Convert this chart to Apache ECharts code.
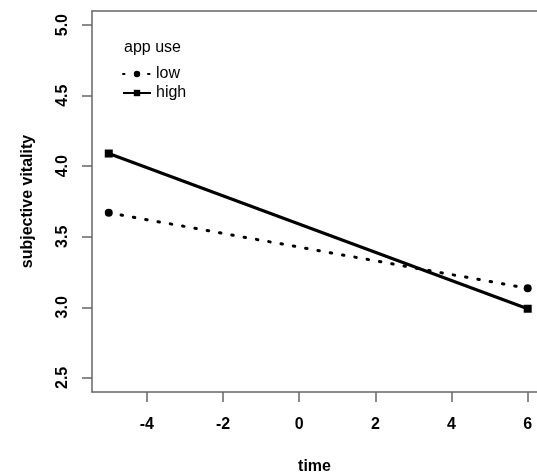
<!DOCTYPE html>
<html>
<head>
<meta charset="utf-8">
<script src="https://cdn.jsdelivr.net/npm/echarts@6/dist/echarts.min.js"></script>
<style>
  html, body { margin: 0; padding: 0; background: #fff; }
  #chart { width: 537px; height: 476px; }
</style>
</head>
<body>
<div id="chart"></div>
<script>
// data
const time = [-5, 6];
const lowUse = [3.67, 3.135];
const highUse = [4.09, 2.99];
const xTicks = [-4, -2, 0, 2, 4, 6];
const yTicks = [2.5, 3.0, 3.5, 4.0, 4.5, 5.0];

const font = "Liberation Sans, Arial, sans-serif";
const axisColor = "#666";
const chart = echarts.init(document.getElementById("chart"));

const option = {
  animation: false,
  title: {
    text: "app use",
    left: 119,
    top: 35,
    textStyle: { fontFamily: font, fontSize: 16, fontWeight: "normal", color: "#000" }
  },
  legend: {
    orient: "vertical",
    left: 117,
    top: 61,
    itemWidth: 28,
    itemHeight: 8,
    itemGap: 3,
    textStyle: { fontFamily: font, fontSize: 16, color: "#000" },
    data: ["low", "high"]
  },
  // plot box drawn by the axis lines (the right side is cut off in the reference)
  grid: { left: 92, right: 0, top: 11, bottom: 84, containLabel: false, outerBoundsMode: "none" },
  xAxis: [
    {
      type: "value",
      min: -5.44,
      max: 6.244,
      position: "bottom",
      name: "time",
      nameLocation: "middle",
      nameGap: 67,
      nameTextStyle: { fontFamily: font, fontSize: 16, fontWeight: "bold", color: "#000" },
      axisLine: { show: true, onZero: false, lineStyle: { color: axisColor, width: 1.5 } },
      splitLine: { show: false },
      axisTick: { show: true, length: 10, inside: false, customValues: xTicks, lineStyle: { color: axisColor, width: 1.5 } },
      axisLabel: {
        customValues: xTicks,
        margin: 25,
        fontFamily: font, fontSize: 16, fontWeight: "bold", color: "#000"
      }
    },
    {
      type: "value",
      min: -5.44,
      max: 6.244,
      position: "top",
      axisLine: { show: true, onZero: false, lineStyle: { color: axisColor, width: 1.5 } },
      axisTick: { show: false },
      axisLabel: { show: false },
      splitLine: { show: false }
    }
  ],
  yAxis: {
    type: "value",
    min: 2.4,
    max: 5.1,
    name: "subjective vitality",
    nameLocation: "middle",
    nameGap: 56,
    nameRotate: 90,
    nameTextStyle: { fontFamily: font, fontSize: 16, fontWeight: "bold", color: "#000" },
    axisLine: { show: true, onZero: false, lineStyle: { color: axisColor, width: 1.5 } },
    splitLine: { show: false },
    axisTick: { show: true, length: 10, inside: false, customValues: yTicks, lineStyle: { color: axisColor, width: 1.5 } },
    axisLabel: {
      customValues: yTicks,
      rotate: 90,
      margin: 21,
      formatter: v => v.toFixed(1),
      fontFamily: font, fontSize: 16, fontWeight: "bold", color: "#000"
    }
  },
  series: [
    {
      name: "low",
      type: "line",
      data: time.map((t, i) => [t, lowUse[i]]),
      symbol: "circle",
      symbolSize: 8,
      itemStyle: { color: "#000" },
      lineStyle: { color: "#000", width: 3, type: [1.5, 11], cap: "round" }
    },
    {
      name: "high",
      type: "line",
      data: time.map((t, i) => [t, highUse[i]]),
      symbol: "rect",
      symbolSize: 8,
      itemStyle: { color: "#000" },
      lineStyle: { color: "#000", width: 3 }
    }
  ]
};

chart.setOption(option);
</script>
</body>
</html>
